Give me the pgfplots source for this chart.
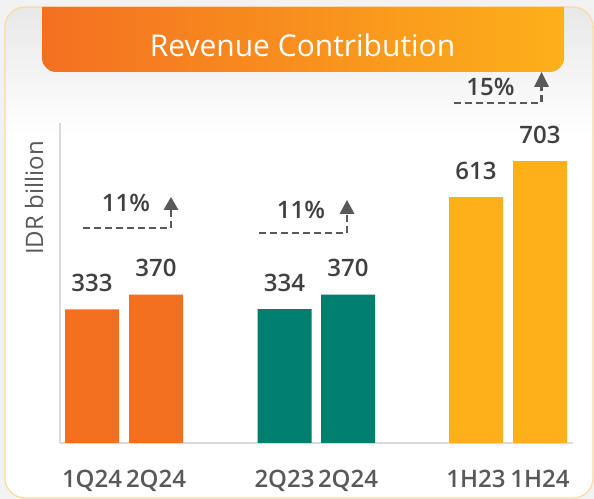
\documentclass[border=0pt]{standalone}
\usepackage{pgfplots}
\pgfplotsset{compat=1.18}
\usepackage{fontspec}
\setmainfont{Open Sans}
\IfFontExistsTF{Open Sans SemiBold}{\newfontfamily\osb{Open Sans SemiBold}}{%
  \IfFontExistsTF{Open Sans Semibold}{\newfontfamily\osb{Open Sans Semibold}}{\newcommand\osb{\bfseries}}}
\definecolor{cOr}{HTML}{F47021}
\definecolor{cTe}{HTML}{007F6F}
\definecolor{cAm}{HTML}{FDB01A}
\definecolor{cTxt}{HTML}{404040}
\definecolor{cTick}{HTML}{595959}
\definecolor{cArr}{HTML}{595959}
\definecolor{cBord}{HTML}{FDD9A0}
\definecolor{cBg}{HTML}{F2F2F2}
\definecolor{cAx}{HTML}{DADADA}
\begin{document}
\begin{tikzpicture}[x=1bp,y=1bp]
\useasboundingbox (0,0) rectangle (594,499);
\fill[cBg] (0,0) rectangle (594,499);
\fill[white, rounded corners=20bp] (5,1) rectangle (593,492);
\begin{scope}
\clip[rounded corners=20bp] (5,1) rectangle (593,492);
\shade[top color=black!9, bottom color=white] (5,364) rectangle (593,492);
\end{scope}
\draw[cBord, line width=1.2bp, rounded corners=20bp] (5,1) rectangle (593,492);
\shade[left color=cOr, right color=cAm] (42,492) -- (564,492) -- (564,441)
  arc[start angle=0, end angle=-90, radius=14] -- (56,427)
  arc[start angle=270, end angle=180, radius=14] -- cycle;
\node[white, font=\fontsize{30bp}{36bp}\selectfont, anchor=base] at (302.5,442) {Revenue Contribution};
\node[rotate=90, anchor=base, text=cTick, font=\fontsize{24bp}{28bp}\selectfont] at (43,301) {IDR billion};
\begin{axis}[
  at={(60bp,56bp)}, anchor=south west, scale only axis,
  width=513bp, height=320bp,
  xmin=60, xmax=573, ymin=0, ymax=797.8,
  axis x line=bottom, axis y line=left,
  axis line style={-, draw=cAx, line width=1.2bp},
  ytick=\empty,
  xtick={92,156,284.5,348,476,540},
  xticklabels={1Q24,2Q24,2Q23,2Q24,1H23,1H24},
  major tick length=0pt,
  xticklabel style={anchor=base, yshift=-44bp, text=cTick, font=\osb\fontsize{24bp}{28bp}\selectfont},
  ybar, bar width=54bp,
  nodes near coords,
  every node near coord/.append style={anchor=base, yshift=18bp, text=cTxt, font=\osb\fontsize{24bp}{28bp}\selectfont},
  /pgf/number format/assume math mode=true,
  clip=false,
]
\addplot[fill=cOr, draw=none, bar shift=0pt] coordinates {(92,333) (156,370)};
\addplot[fill=cTe, draw=none, bar shift=0pt] coordinates {(284.5,334) (348,370)};
\addplot[fill=cAm, draw=none, bar shift=0pt] coordinates {(476,613) (540,703)};
\end{axis}
\tikzset{arr/.style={draw=cArr, line width=2.5bp, dash pattern=on 7bp off 4bp}}
\draw[arr] (83,271) -- (171,271) -- (171,289);
\fill[cArr] (163.5,289) -- (178.5,289) -- (171,302) -- cycle;
\node[anchor=base, text=cTxt, font=\osb\fontsize{24bp}{28bp}\selectfont] at (126,287) {11\%};
\draw[arr] (259,266) -- (347,266) -- (347,285);
\fill[cArr] (339.5,285) -- (354.5,285) -- (347,299) -- cycle;
\node[anchor=base, text=cTxt, font=\osb\fontsize{24bp}{28bp}\selectfont] at (301,280) {11\%};
\draw[arr] (454,396) -- (541.5,396) -- (541.5,412);
\fill[cArr] (534,412) -- (549,412) -- (541.5,427) -- cycle;
\node[anchor=base, text=cTxt, font=\osb\fontsize{24bp}{28bp}\selectfont] at (490.5,403) {15\%};
\end{tikzpicture}
\end{document}
